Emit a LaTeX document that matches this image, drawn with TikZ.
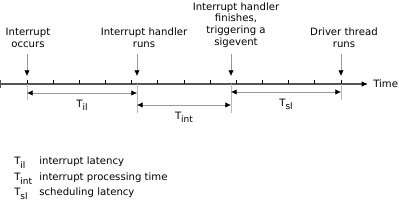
\documentclass[tikz,border=0pt]{standalone}
\usepackage{fontspec}
\setmainfont{DejaVu Sans}
\usetikzlibrary{arrows.meta}

\definecolor{axisgray}{HTML}{555555}
\definecolor{linegray}{HTML}{999999}
\definecolor{guidegray}{HTML}{BBBBBB}
\newcommand{\Tsub}[1]{T\raisebox{-0.55ex}{\fontsize{6.4}{7}\selectfont #1}}

\tikzset{
  lbl/.style={font=\fontsize{7.2}{8.4}\selectfont, text=black, inner sep=0pt, align=center},
  axisline/.style={axisgray, line width=1.4pt, -{Latex[length=4.5pt,width=4pt,color=black]}},
  tickmark/.style={black, line width=0.6pt},
  evarrow/.style={linegray, line width=0.5pt, shorten <=4pt, -{Latex[length=4pt,width=3.8pt,color=black]}},
  dimline/.style={linegray, line width=0.5pt, {Latex[length=4pt,width=3.8pt,color=black]}-{Latex[length=4pt,width=3.8pt,color=black]}},
  guide/.style={guidegray, line width=0.4pt}
}

\begin{document}
\begin{tikzpicture}[x=0.25mm, y=-0.25mm]
  \useasboundingbox (0,0) rectangle (399,204);

  % time axis with ticks
  \coordinate (start) at (0,84);
  \coordinate (end) at (368,84);
  \draw[axisline] (start) -- (end);
  \draw[axisgray, line width=1pt] (0.6,80) -- (0.6,88);
  \node[lbl, anchor=west] (time) at (373,84) {Time};
  \foreach \i in {0,...,12}
    \draw[tickmark] (27+\i*26.17,84) -- ++(0,-4);

  % events on the axis
  \coordinate (e1) at (27,84);
  \coordinate (e2) at (137,84);
  \coordinate (e3) at (231,84);
  \coordinate (e4) at (341,84);

  \node[lbl] (occurs) at (28,38) {Interrupt\\occurs};
  \node[lbl] (runs) at (144,38) {Interrupt handler\\runs};
  \node[lbl] (finishes) at (236,25) {Interrupt handler\\finishes,\\triggering a\\sigevent};
  \node[lbl] (driver) at (344,38) {Driver thread\\runs};

  \draw[evarrow] (occurs.south -| e1) -- (e1 |- 0,76);
  \draw[evarrow] (runs.south -| e2) -- (e2 |- 0,76);
  \draw[evarrow] (finishes.south -| e3) -- (e3 |- 0,76);
  \draw[evarrow] (driver.south -| e4) -- (e4 |- 0,76);

  % guide lines below the axis
  \draw[guide] (e1) -- (e1 |- 0,100);
  \draw[guide] (e2) -- (e2 |- 0,113);
  \draw[guide] (e3) -- (e3 |- 0,113);
  \draw[guide] (e4) -- (e4 |- 0,100);

  % intervals
  \draw[dimline] (e1 |- 0,93) -- (e2 |- 0,93)
    node[lbl, midway, below=4.5pt] (til) {\Tsub{il}};
  \draw[dimline] (e2 |- 0,105) -- (e3 |- 0,105)
    node[lbl, midway, below=5pt] (tint) {\Tsub{int}};
  \draw[dimline] (e3 |- 0,92) -- (e4 |- 0,92)
    node[lbl, midway, below=4.5pt] (tsl) {\Tsub{sl}};

  % legend
  \node[lbl, anchor=base west] (kil) at (14,165) {\Tsub{il}};
  \node[lbl, anchor=base west] (dil) at (39,165) {interrupt latency};
  \node[lbl, anchor=base west] (kint) at (14,181) {\Tsub{int}};
  \node[lbl, anchor=base west] (dint) at (39,181) {interrupt processing time};
  \node[lbl, anchor=base west] (ksl) at (14,196) {\Tsub{sl}};
  \node[lbl, anchor=base west] (dsl) at (39,196) {scheduling latency};
\end{tikzpicture}
\end{document}
